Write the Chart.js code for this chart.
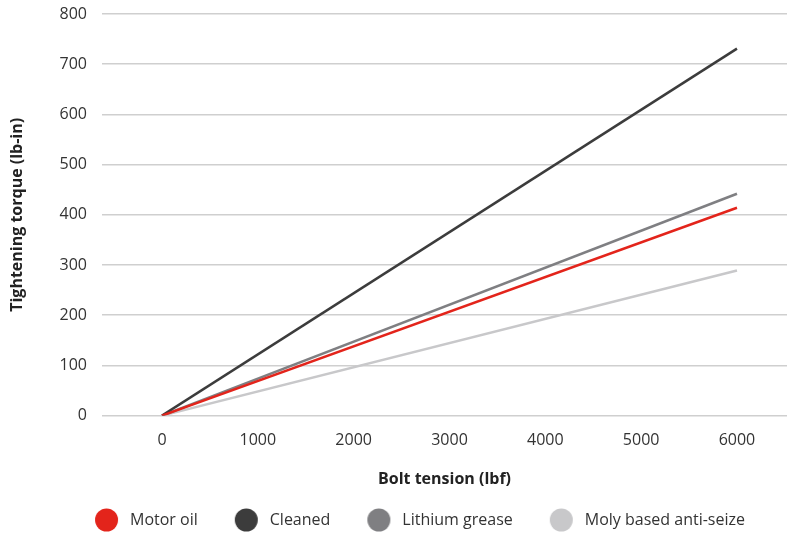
<!DOCTYPE html>
<html>
<head>
<meta charset="utf-8">
<script src="https://cdn.jsdelivr.net/npm/chart.js@4/dist/chart.umd.min.js"></script>
<style>
  body { margin: 0; background: #fff; }
  #wrap { width: 787px; height: 533px; position: relative; }
</style>
</head>
<body>
<div id="wrap"><canvas id="grafico"></canvas></div>
<script>
// valores (torque em lb-in para cada tensão em lbf)
const tensoes = [0, 6000];
const oleoMotor = [0, 414];
const limpo = [0, 731];
const graxaLitio = [0, 442];
const antiEngripante = [0, 289];

const nomesSeries = ["Motor oil", "Cleaned", "Lithium grease", "Moly based anti-seize"];
const coresSeries = ["#e3241b", "#3c3c3c", "#7f7f82", "#c8c8ca"];
const ticksX = [0, 1000, 2000, 3000, 4000, 5000, 6000];

const fonte = "'Open Sans', sans-serif";

function pontos(valores) {
  return tensoes.map((t, i) => ({ x: t, y: valores[i] }));
}

// marcador da legenda: círculo desenhado no lado direito de uma imagem de 60px
function marcador(cor) {
  const c = document.createElement("canvas");
  c.width = 60;
  c.height = 24;
  const g = c.getContext("2d");
  g.fillStyle = cor;
  g.beginPath();
  g.arc(44.5, 12, 11.5, 0, Math.PI * 2);
  g.fill();
  return c;
}
const marcadores = coresSeries.map(marcador);

const series = [oleoMotor, limpo, graxaLitio, antiEngripante];

const ctx = document.getElementById("grafico").getContext("2d");
const grafico = new Chart(ctx, {
  type: "line",
  data: {
    datasets: series.map((valores, i) => ({
      label: nomesSeries[i],
      data: pontos(valores),
      borderColor: coresSeries[i],
      backgroundColor: coresSeries[i],
      borderWidth: 2.5,
      pointRadius: 0,
      fill: false,
      tension: 0
    }))
  },
  options: {
    responsive: true,
    maintainAspectRatio: false,
    animation: false,
    layout: { padding: { top: 0, right: 0, left: 20, bottom: -5 } },
    plugins: {
      tooltip: { enabled: false },
      legend: {
        position: "bottom",
        labels: {
          usePointStyle: true,
          pointStyleWidth: 60,
          color: "#333",
          font: { family: fonte, size: 16 },
          padding: 4,
          generateLabels: chart =>
            Chart.defaults.plugins.legend.labels.generateLabels(chart)
              .map((l, i) => ({ ...l, pointStyle: marcadores[i] }))
        }
      }
    },
    scales: {
      x: {
        type: "linear",
        min: -626,
        max: 6522,
        afterBuildTicks: axis => { axis.ticks = ticksX.map(v => ({ value: v })); },
        grid: { display: false, drawTicks: false },
        border: { display: false },
        ticks: {
          color: "#333",
          font: { family: fonte, size: 16 },
          padding: 15,
          maxRotation: 0,
          callback: v => String(v)
        },
        title: {
          display: true,
          text: "Bolt tension (lbf)",
          color: "#222",
          font: { family: fonte, size: 16, weight: "bold" },
          padding: { top: 5, bottom: 19 }
        }
      },
      y: {
        min: 0,
        max: 800,
        ticks: {
          stepSize: 100,
          color: "#333",
          font: { family: fonte, size: 16 },
          padding: 15
        },
        grid: { color: "#cfcfcf", lineWidth: 1.5, drawTicks: false },
        border: { display: false },
        title: {
          display: true,
          text: "Tightening torque (lb-in)",
          color: "#222",
          font: { family: fonte, size: 16, weight: "bold" },
          padding: { top: -12, bottom: 0 }
        },
        afterFit: axis => {
          axis.width = 82;
          axis.paddingTop = 14;
        }
      }
    }
  }
});
</script>
</body>
</html>
